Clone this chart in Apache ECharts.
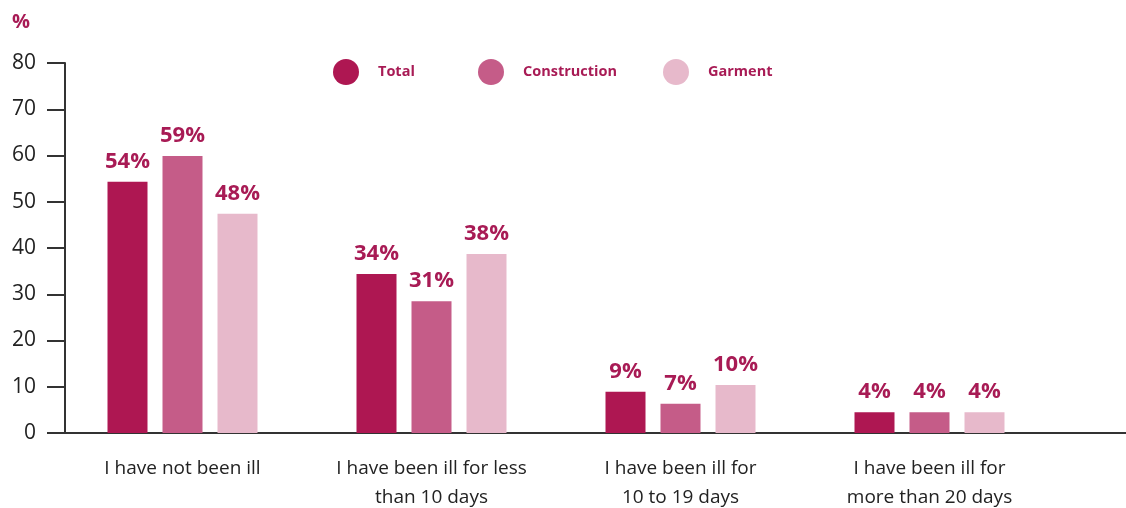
<!DOCTYPE html>
<html><head><meta charset="utf-8">
<script src="https://cdn.jsdelivr.net/npm/echarts@6/dist/echarts.min.js"></script>
<style>html,body{margin:0;padding:0;background:#fff}#c{width:1126px;height:508px}</style>
</head><body><div id="c"></div>
<script>
var categories = ['I have not been ill', 'I have been ill for less\nthan 10 days', 'I have been ill for\n10 to 19 days', 'I have been ill for\nmore than 20 days'];
var seriesNames = ['Total', 'Construction', 'Garment'];
var totalValues = [54.3, 34.4, 8.9, 4.5];
var constructionValues = [59.9, 28.5, 6.3, 4.5];
var garmentValues = [47.4, 38.7, 10.4, 4.5];
var totalLabels = ['54%', '34%', '9%', '4%'];
var constructionLabels = ['59%', '31%', '7%', '4%'];
var garmentLabels = ['48%', '38%', '10%', '4%'];
var yTicks = [0, 10, 20, 30, 40, 50, 60, 70, 80];

var colors = ['#ae1752', '#c55c88', '#e7b9cb'];
var textMag = '#a81b55';
var font = '"Open Sans", "Noto Sans", sans-serif';

function mkSeries(name, vals, labels, color) {
  return {
    name: name, type: 'bar', xAxisIndex: 0, yAxisIndex: 0,
    barWidth: 40, barGap: '37.5%',
    itemStyle: { color: color },
    label: {
      show: true, position: 'top', distance: 9,
      formatter: function (p) { return labels[p.dataIndex]; },
      color: textMag, fontFamily: font, fontWeight: 'bold', fontSize: 22
    },
    data: vals
  };
}

var chart = echarts.init(document.getElementById('c'));
var legendBase = {
  icon: 'circle', itemWidth: 26, itemHeight: 26, top: 59, itemGap: 20, padding: 0,
  textStyle: { color: textMag, fontFamily: font, fontWeight: 'bold', fontSize: 14.5, padding: [0, 0, 0, 14] },
  selectedMode: false
};
chart.setOption({
  animation: false,
  title: { text: '%', left: 12, top: 12, padding: 0, textStyle: { color: textMag, fontFamily: font, fontWeight: 'bold', fontSize: 20 } },
  legend: [
    Object.assign({}, legendBase, { left: 333, data: [seriesNames[0]] }),
    Object.assign({}, legendBase, { left: 478, data: [seriesNames[1]] }),
    Object.assign({}, legendBase, { left: 663, data: [seriesNames[2]] })
  ],
  color: colors,
  grid: [
    { left: 58, width: 996, top: 63, bottom: 75, outerBoundsMode: 'none', containLabel: false },
    { left: 65, right: 0, top: 63, bottom: 75, outerBoundsMode: 'none', containLabel: false }
  ],
  xAxis: [
    {
      type: 'category', gridIndex: 0, data: categories,
      axisLine: { show: false }, axisTick: { show: false },
      axisLabel: { color: '#222', fontFamily: font, fontSize: 19, margin: 21, lineHeight: 29 }
    },
    {
      type: 'value', gridIndex: 1, min: 0, max: 1,
      axisLine: { show: true, lineStyle: { color: '#333', width: 2 } },
      axisTick: { show: false }, axisLabel: { show: false }, splitLine: { show: false }
    }
  ],
  yAxis: [
    { type: 'value', gridIndex: 0, min: 0, max: 80, interval: 10, show: false },
    {
      type: 'value', gridIndex: 1, min: yTicks[0], max: yTicks[yTicks.length - 1], interval: 10,
      axisLine: { show: true, lineStyle: { color: '#333', width: 2 } },
      axisTick: { show: true, length: 18, lineStyle: { color: '#333', width: 2 } },
      axisLabel: { color: '#222', fontFamily: font, fontSize: 21, margin: 29 },
      splitLine: { show: false }
    }
  ],
  series: [
    mkSeries(seriesNames[0], totalValues, totalLabels, colors[0]),
    mkSeries(seriesNames[1], constructionValues, constructionLabels, colors[1]),
    mkSeries(seriesNames[2], garmentValues, garmentLabels, colors[2])
  ]
});
</script></body></html>
